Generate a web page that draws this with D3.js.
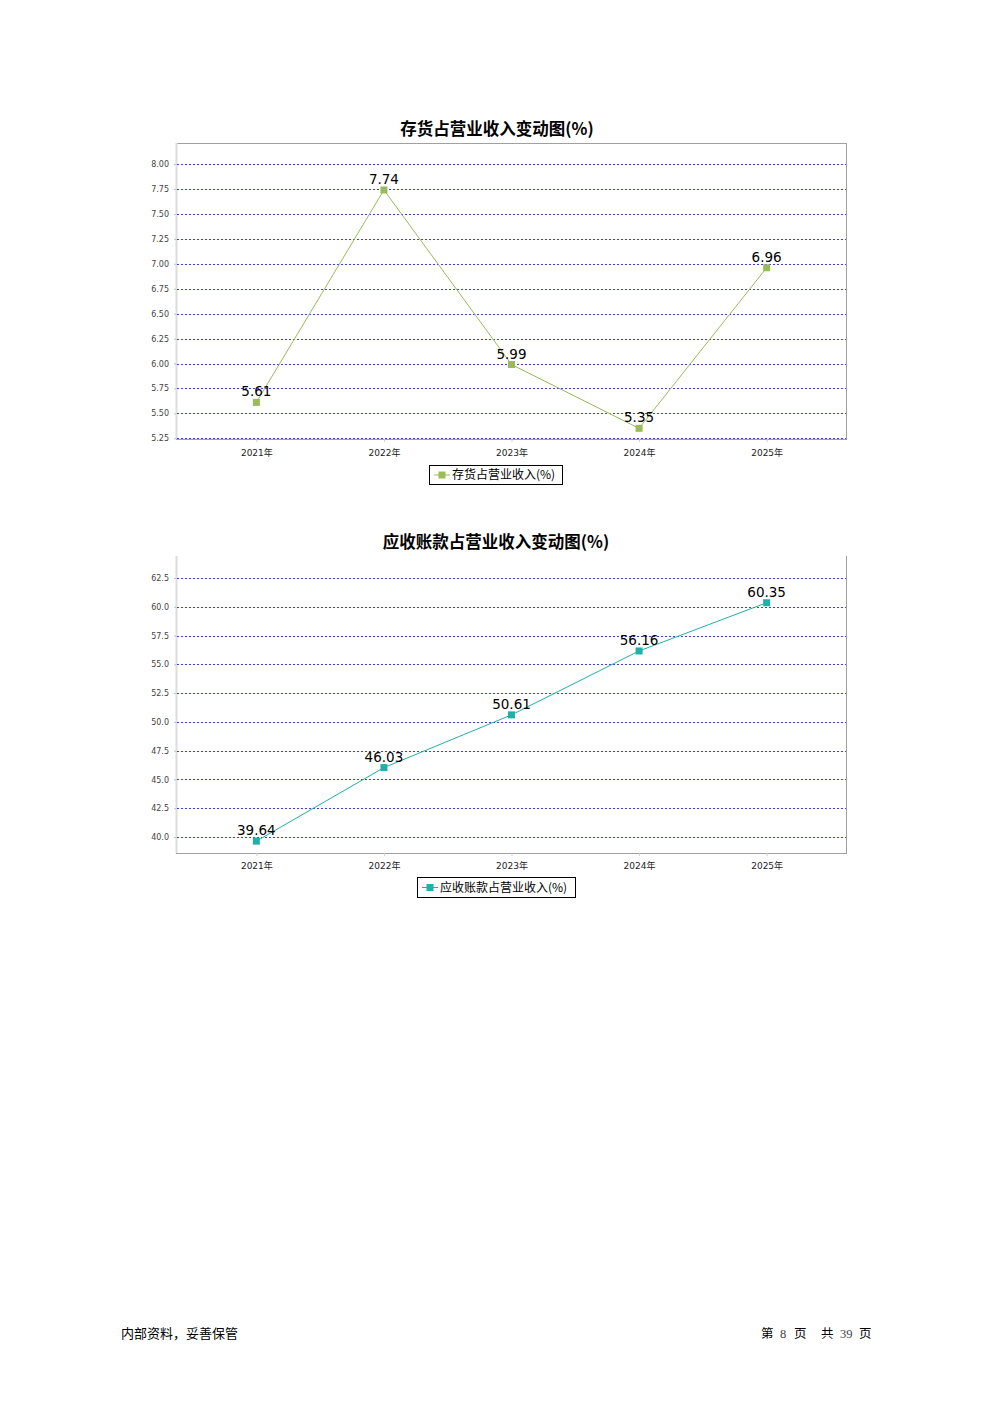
<!DOCTYPE html>
<html><head><meta charset="utf-8">
<script src="https://cdn.jsdelivr.net/npm/d3@7"></script>
<style>
body{margin:0;background:#fff;}
svg{display:block;}
</style></head>
<body>
<svg id="c" width="992" height="1403"></svg>
<script>
const categories = ["2021年","2022年","2023年","2024年","2025年"];
const inventoryValues = [5.61, 7.74, 5.99, 5.35, 6.96];
const receivableValues = [39.64, 46.03, 50.61, 56.16, 60.35];
const inventoryTicks = [5.25,5.50,5.75,6.00,6.25,6.50,6.75,7.00,7.25,7.50,7.75,8.00];
const receivableTicks = [40.0,42.5,45.0,47.5,50.0,52.5,55.0,57.5,60.0,62.5];
const titles = ["存货占营业收入变动图(%)","应收账款占营业收入变动图(%)"];
const legendLabels = ["存货占营业收入(%)","应收账款占营业收入(%)"];

const svg = d3.select("#c");
const FONT = "'DejaVu Sans','Noto Sans CJK SC',sans-serif";
const CJK = "'Noto Sans CJK SC',sans-serif";

function drawChart(cfg){
  const g = svg.append("g");
  const {left,right,top,bottom} = cfg.box;
  const x = d3.scalePoint().domain(categories).range([left,right]).padding(0.63);
  const y = d3.scaleLinear().domain(cfg.domain).range([bottom,top]);

  // title
  g.append("text").attr("x",cfg.titleX).attr("y",top-8)
    .attr("text-anchor","middle").attr("font-family",CJK)
    .attr("font-weight","bold").attr("font-size",16.5).attr("fill","#000").text(cfg.title);

  // frame
  if(cfg.topBorder) g.append("line").attr("x1",left).attr("x2",right).attr("y1",top+0.5).attr("y2",top+0.5).attr("stroke","#a0a0a0");
  g.append("line").attr("x1",right-0.5).attr("x2",right-0.5).attr("y1",top).attr("y2",bottom).attr("stroke","#a0a0a0");
  g.append("line").attr("x1",left).attr("x2",right).attr("y1",bottom+0.5).attr("y2",bottom+0.5).attr("stroke","#a0a0a0");
  g.append("line").attr("x1",left+0.5).attr("x2",left+0.5).attr("y1",top).attr("y2",bottom).attr("stroke","#dcdcdc").attr("stroke-width",2);

  // gridlines
  g.selectAll(".grid").data(cfg.ticks).join("line")
    .attr("x1",left+1).attr("x2",right-1)
    .attr("y1",d=>Math.round(y(d))+0.5).attr("y2",d=>Math.round(y(d))+0.5)
    .attr("stroke","#3a3aff").attr("stroke-width",1).attr("stroke-dasharray","2,2");

  // y axis
  const yAxis = d3.axisLeft(y).tickValues(cfg.ticks).tickFormat(cfg.fmt).tickSize(2).tickPadding(5);
  const ya = g.append("g").attr("transform",`translate(${left},0)`).call(yAxis);
  ya.select(".domain").remove();
  ya.selectAll(".tick line").attr("stroke","#c0c0c0");
  ya.selectAll("text").attr("font-family",FONT).attr("font-size",8).attr("fill","#444");

  // x axis
  const xAxis = d3.axisBottom(x).tickSize(3).tickPadding(cfg.xPad);
  const xa = g.append("g").attr("transform",`translate(0,${bottom})`).call(xAxis);
  xa.select(".domain").remove();
  xa.selectAll(".tick line").attr("stroke","#d0d0d0");
  xa.selectAll("text").attr("font-family",FONT).attr("font-size",9).attr("fill","#222");

  // line
  const pts = categories.map((c,i)=>({c,v:cfg.values[i]}));
  g.append("path").datum(pts).attr("fill","none").attr("stroke",cfg.color).attr("stroke-width",1)
    .attr("d",d3.line().x(d=>x(d.c)).y(d=>y(d.v)));
  g.selectAll(".m").data(pts).join("rect")
    .attr("x",d=>x(d.c)-3.5).attr("y",d=>y(d.v)-3.5).attr("width",7).attr("height",7)
    .attr("fill",cfg.color);
  g.selectAll(".lbl").data(pts).join("text")
    .attr("x",d=>x(d.c)).attr("y",d=>y(d.v)-6)
    .attr("text-anchor","middle").attr("font-family",FONT).attr("font-size",13.5).attr("fill","#000")
    .text(d=>d.v.toFixed(2));

  // legend
  const lg = cfg.legend;
  g.append("rect").attr("x",lg.x+0.5).attr("y",lg.y+0.5).attr("width",lg.w).attr("height",lg.h)
    .attr("fill","#fff").attr("stroke","#000").attr("stroke-width",1);
  const cy = lg.y + lg.h/2 + 0.5;
  g.append("line").attr("x1",lg.x+5).attr("x2",lg.x+21).attr("y1",cy).attr("y2",cy).attr("stroke",cfg.color);
  g.append("rect").attr("x",lg.x+9.5).attr("y",cy-3.5).attr("width",7).attr("height",7).attr("fill",cfg.color);
  g.append("text").attr("x",lg.x+23).attr("y",cy+4).attr("font-family",CJK)
    .attr("font-size",12).attr("fill","#000").text(cfg.legendLabel);
}

drawChart({
  box:{left:176,right:847,top:143,bottom:439},
  domain:[5.243,8.211], ticks:inventoryTicks, fmt:d3.format(".2f"),
  values:inventoryValues, color:"#9bbb59", title:titles[0], legendLabel:legendLabels[0],
  legend:{x:429,y:465,w:133,h:19}, topBorder:true, titleX:497, xPad:8
});
drawChart({
  box:{left:176,right:847,top:556,bottom:853},
  domain:[38.61,64.41], ticks:receivableTicks, fmt:d3.format(".1f"),
  values:receivableValues, color:"#1fb0a8", title:titles[1], legendLabel:legendLabels[1],
  legend:{x:417,y:877,w:158,h:20}, topBorder:false, titleX:496, xPad:7
});

// footer
svg.append("text").attr("x",121).attr("y",1338).attr("font-family",CJK)
  .attr("font-size",13).attr("fill","#000").text("内部资料，妥善保管");
const footParts = [
  {t:"第",x:761,f:CJK},{t:"8",x:780,f:"'Liberation Serif',serif"},{t:"页",x:794,f:CJK},
  {t:"共",x:821,f:CJK},{t:"39",x:840,f:"'Liberation Serif',serif"},{t:"页",x:859,f:CJK}
];
svg.selectAll(".ft").data(footParts).join("text")
  .attr("x",d=>d.x).attr("y",1338).attr("font-family",d=>d.f).attr("font-size",12.5)
  .attr("fill",d=>d.f===CJK?"#000":"#444").text(d=>d.t);
</script>
</body></html>
